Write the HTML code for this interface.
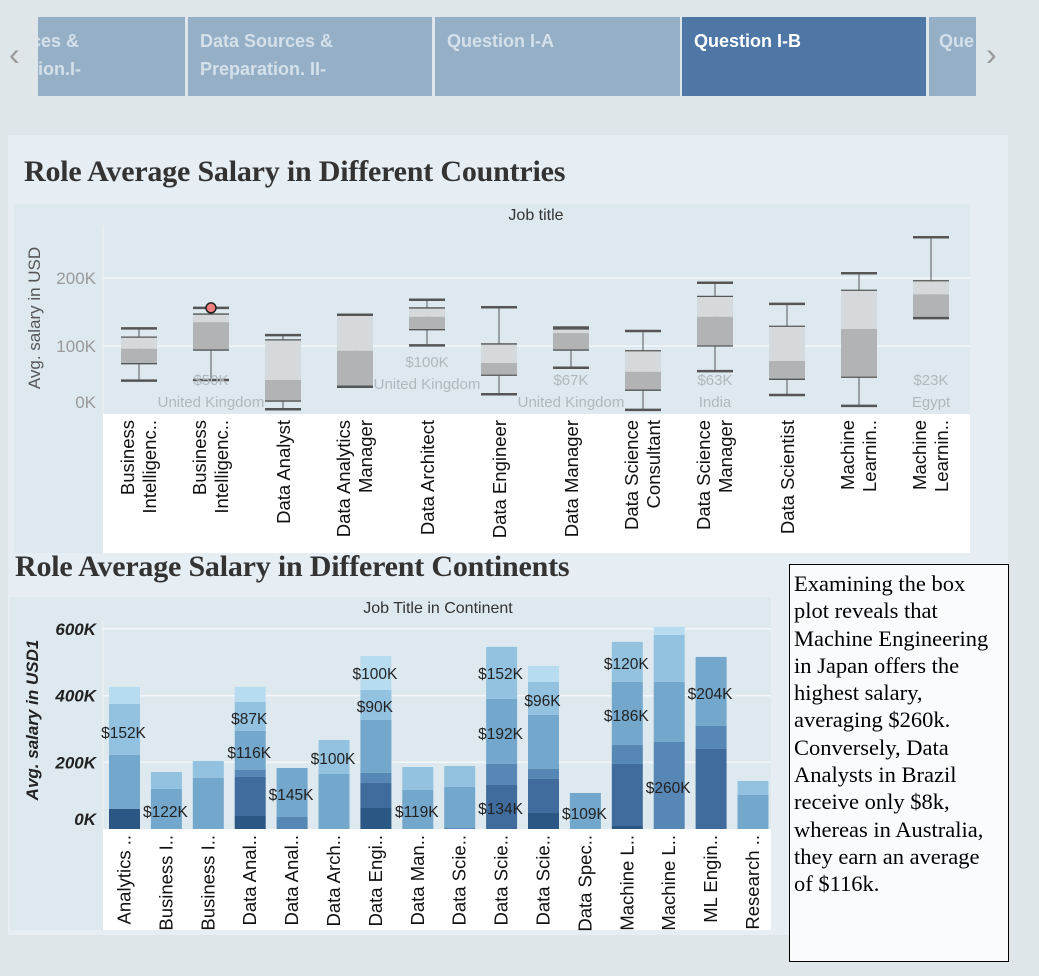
<!DOCTYPE html>
<html><head><meta charset="utf-8"><style>
body{margin:0;width:1039px;height:976px;background:#dfe6e9;position:relative;overflow:hidden;font-family:"Liberation Sans",sans-serif}
.tab{position:absolute;top:17px;height:79px;background:#95afc6;color:#d4e0ea;font-weight:bold;font-size:18px;line-height:28px;padding:10px 12px;box-sizing:border-box;overflow:hidden;white-space:nowrap}
.ttl{position:absolute;font-family:"Liberation Serif",serif;font-weight:bold;font-size:30px;color:#333;letter-spacing:-0.2px}
svg text{font-family:"Liberation Sans",sans-serif}
</style></head><body>
<div>
<div class="arrow" style="position:absolute;left:9px;top:36px;font-size:32px;color:#999">&#x2039;</div>
<div class="tab" style="left:38px;width:147px;padding-left:0"><span style="margin-left:-14px">rces &amp;<br>ion.I-</span></div>
<div class="tab" style="left:188px;width:244px">Data Sources &amp;<br>Preparation. II-</div>
<div class="tab" style="left:435px;width:245px">Question I-A</div>
<div class="tab" style="left:682px;width:244px;background:#4e77a5;color:#fff">Question I-B</div>
<div class="tab" style="left:929px;width:47px;padding-left:10px">Que</div>
<div style="position:absolute;left:986px;top:36px;font-size:32px;color:#999">&#x203A;</div>
</div>
<div style="position:absolute;left:8px;top:135px;width:1000px;height:800px;background:#e6eef4"></div>
<div class="ttl" style="left:24px;top:155px">Role Average Salary in Different Countries</div>
<div class="ttl" style="left:15px;top:550px">Role Average Salary in Different Continents</div>
<div style="position:absolute;left:789px;top:564px;width:220px;height:398px;box-sizing:border-box;border:1.5px solid #000;background:#fafbfd;font-family:'Liberation Serif',serif;font-size:22.5px;line-height:27.3px;padding:5px 9px 5px 4px;color:#000">Examining the box plot reveals that Machine Engineering in Japan offers the highest salary, averaging $260k. Conversely, Data Analysts in Brazil receive only $8k, whereas in Australia, they earn an average of $116k.</div>
<svg id="s" width="1039" height="976" style="position:absolute;left:0;top:0">
<rect x="14" y="204" width="956" height="349" fill="#dde9ef"/>
<rect x="103" y="414" width="867" height="139" fill="#fff"/>
<text x="536" y="220" text-anchor="middle" font-size="16" fill="#333">Job title</text>
<text transform="translate(40,318) rotate(-90)" text-anchor="middle" font-size="17" fill="#555">Avg. salary in USD</text>
<rect x="10" y="597" width="761" height="333" fill="#dde9ef"/>
<rect x="103" y="829" width="668" height="101" fill="#fff"/>
<text x="438" y="613" text-anchor="middle" font-size="16" fill="#333">Job Title in Continent</text>
<text transform="translate(38,720) rotate(-90)" text-anchor="middle" font-size="17" font-weight="bold" font-style="italic" fill="#222">Avg. salary in USD1</text>
<g id="g1"></g><g id="g2"></g>
</svg>
<script>
const boxCats=[["Business","Intelligenc.."],["Business","Intelligenc.."],["Data Analyst"],["Data Analytics","Manager"],["Data Architect"],["Data Engineer"],["Data Manager"],["Data Science","Consultant"],["Data Science","Manager"],["Data Scientist"],["Machine","Learnin.."],["Machine","Learnin.."]];
const wLow=[49,50,7,40,101,29,68,6,63,28,12,141];
const q1=[74,94,19,40,124,57,94,35,100,51,54,141];
const med=[96,135,50,93,143,75,119,62,143,78,125,176];
const q3=[113,147,109,146,156,103,128,93,173,129,182,196];
const wHigh=[126,156,116,146,168,157,126,122,193,162,207,260];
const boxTicks=[0,100,200];
const annotIdx=[1,4,6,8,11];
const annotVal=["$50K","$100K","$67K","$63K","$23K"];
const annotCountry=["United Kingdom","United Kingdom","United Kingdom","India","Egypt"];
const annotUp=[0,1,0,0,0];

const barCats=["Analytics ..","Business I..","Business I..","Data Anal..","Data Anal..","Data Arch..","Data Engi..","Data Man..","Data Scie..","Data Scie..","Data Scie..","Data Spec..","Machine L..","Machine L..","ML Engin..","Research .."];
const segDarkest=[60,0,0,39,0,0,63,0,0,0,48,0,9,0,0,0];
const segDark=[0,0,0,117,0,0,75,0,0,132,102,0,186,0,240,0];
const segMid=[0,0,0,21,36,0,30,0,3,63,30,0,57,261,69,0];
const segLight=[162,120,153,117,147,165,159,117,123,195,162,108,189,180,207,102];
const segLighter=[153,51,51,87,0,102,90,69,63,156,99,0,120,141,0,42];
const segLightest=[51,0,0,45,0,0,102,0,0,0,48,0,0,24,0,0];
const barTicks=[0,200,400,600];
const labelBar=[0,1,3,3,4,5,6,6,7,9,9,9,10,11,12,12,13,14];
const labelVal=[291,54,333,231,105,213,468,369,54,468,288,63,387,48,498,342,126,408];
const labelText=["$152K","$122K","$87K","$116K","$145K","$100K","$100K","$90K","$119K","$152K","$192K","$134K","$96K","$109K","$120K","$186K","$260K","$204K"];

const NS="http://www.w3.org/2000/svg";
function mk(p,t,a,txt){const e=document.createElementNS(NS,t);for(const k in a)e.setAttribute(k,a[k]);if(txt!==undefined)e.textContent=txt;p.appendChild(e);return e;}
// box chart
const g1=document.getElementById('g1');
const y1=v=>414-v*0.68, x1=i=>139+i*72;
mk(g1,'line',{x1:103,x2:103,y1:225,y2:414,stroke:'#eef3f6'});
boxTicks.forEach(t=>{
 if(t>0){const l=mk(g1,'line',{x1:103,x2:970,y1:y1(t),y2:y1(t),stroke:'#f4f7f9','stroke-width':1.5});
 
 }
 const tx=mk(g1,'text',{x:96,y:y1(t)+6-(t==0?12:0),'text-anchor':'end','font-size':17,fill:'#999'},t+'K');
 
 
});
boxCats.forEach((c,i)=>{
 const x=x1(i),w=36;
 const g=mk(g1,'g',{});
 
 
 mk(g,'line',{x1:x,x2:x,y1:y1(wHigh[i]),y2:y1(wLow[i]),stroke:'#555','stroke-width':1});
 mk(g,'rect',{x:x-w/2,y:y1(q3[i]),width:w,height:y1(med[i])-y1(q3[i]),fill:'#d5d9db'});
 mk(g,'rect',{x:x-w/2,y:y1(med[i]),width:w,height:y1(q1[i])-y1(med[i]),fill:'#b1b3b5'});
 [q3[i],q1[i]].forEach(v=>mk(g,'line',{x1:x-w/2,x2:x+w/2,y1:y1(v),y2:y1(v),stroke:'#555','stroke-width':1.3}));
 [wHigh[i],wLow[i]].forEach(v=>mk(g,'line',{x1:x-w/2,x2:x+w/2,y1:y1(v),y2:y1(v),stroke:'#555','stroke-width':2.5}));
 const lab=mk(g1,'text',{transform:`translate(${x},420) rotate(-90)`,'text-anchor':'end','font-size':18.5,fill:'#111'});
 
 
 c.forEach((s,k)=>mk(lab,'tspan',{x:0,dy:k==0?(c.length==2?-5:7):22},s));
});
const od=mk(g1,'circle',{cx:x1(1),cy:y1(156),r:5,fill:'#f08080',stroke:'#222','stroke-width':1.5});


annotIdx.forEach((b,k)=>{
 const base=annotUp[k]?384:402;
 const t1=mk(g1,'text',{x:x1(b),y:base-22+5,'text-anchor':'middle','font-size':15,fill:'#b0b8bd'},annotVal[k]);
 
 
 const t2=mk(g1,'text',{x:x1(b),y:base+5,'text-anchor':'middle','font-size':15,fill:'#b0b8bd'},annotCountry[k]);
 
 
});
// bar chart
const g2=document.getElementById('g2');
const y2=v=>829-v*0.3335, x2=i=>124.5+i*41.9;
mk(g2,'line',{x1:103,x2:103,y1:620,y2:829,stroke:'#eef3f6'});
barTicks.forEach(t=>{
 if(t>0){const l=mk(g2,'line',{x1:103,x2:771,y1:y2(t),y2:y2(t),stroke:'#f4f7f9','stroke-width':1.5});
 
 }
 const tx=mk(g2,'text',{x:96,y:y2(t)+6-(t==0?10:0),'text-anchor':'end','font-size':17,'font-weight':'bold','font-style':'italic',fill:'#222'},t+'K');
 
 
});
const segs=[segDarkest,segDark,segMid,segLight,segLighter,segLightest];
const cols=['#2b5784','#3f6c9c','#5787b4','#74a7cc','#93c2e0','#b7dcf0'];
barCats.forEach((c,i)=>{
 let acc=0;const x=x2(i),w=31;
 const g=mk(g2,'g',{});
 
 
 segs.forEach((s,k)=>{const v=s[i];if(v>0){mk(g,'rect',{x:x-w/2,y:y2(acc+v),width:w,height:y2(acc)-y2(acc+v),fill:cols[k]});acc+=v;}});
 const lab=mk(g2,'text',{transform:`translate(${x+6},835) rotate(-90)`,'text-anchor':'end','font-size':18.5,fill:'#111'},c);
 
 
});
labelBar.forEach((b,k)=>{
 const t=mk(g2,'text',{x:x2(b)-1,y:y2(labelVal[k])+6,'text-anchor':'middle','font-size':15.5,fill:'#222'},labelText[k]);
 
 
});
</script>
</body></html>
